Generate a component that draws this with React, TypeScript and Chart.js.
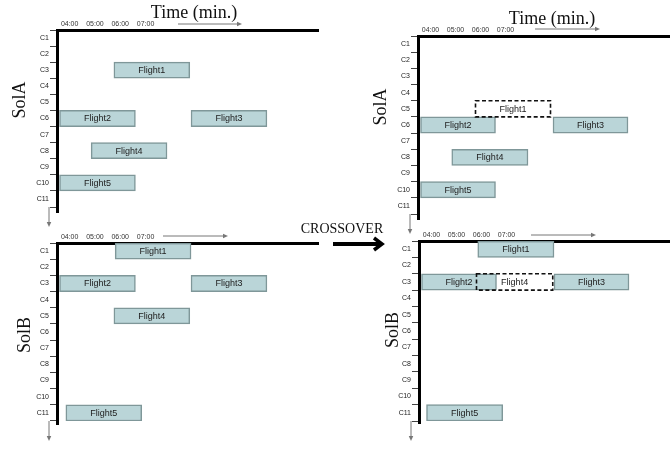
import React, { useEffect, useRef } from 'react';
import { Chart, registerables } from 'chart.js';

Chart.register(...registerables);

const W = 670;
const H = 459;

// ---- data ----
const categories = ['C1', 'C2', 'C3', 'C4', 'C5', 'C6', 'C7', 'C8', 'C9', 'C10', 'C11'];
const hourTicks = [4, 5, 6, 7];
const flightNames = ['Flight1', 'Flight2', 'Flight3', 'Flight4', 'Flight5'];

// Parent SolA (top-left)
const solARows = ['C3', 'C6', 'C6', 'C8', 'C10'];
const solAStart = [5.75, 3.6, 8.8, 4.85, 3.6];
const solAEnd = [8.75, 6.6, 11.8, 7.85, 6.6];

// Parent SolB (bottom-left)
const solBRows = ['C1', 'C3', 'C3', 'C5', 'C11'];
const solBStart = [5.8, 3.6, 8.8, 5.75, 3.85];
const solBEnd = [8.8, 6.6, 11.8, 8.75, 6.85];

// Child SolA after crossover (top-right)
const childARows = ['C5', 'C6', 'C6', 'C8', 'C10'];
const childAStart = [5.8, 3.6, 8.9, 4.85, 3.6];
const childAEnd = [8.8, 6.6, 11.9, 7.9, 6.6];
const childAMoved = ['Flight1'];

// Child SolB after crossover (bottom-right)
const childBRows = ['C1', 'C3', 'C3', 'C3', 'C11'];
const childBStart = [5.85, 3.6, 8.9, 5.8, 3.8];
const childBEnd = [8.9, 6.6, 11.9, 8.85, 6.85];
const childBMoved = ['Flight4'];

const noneMoved: string[] = [];

const texts = [
  { t: 'Time (min.)', x: 194, y: 12, size: 18, rot: 0 },
  { t: 'Time (min.)', x: 552, y: 18, size: 18, rot: 0 },
  { t: 'SolA', x: 19, y: 100, size: 18, rot: -90 },
  { t: 'SolB', x: 24, y: 335, size: 18, rot: -90 },
  { t: 'SolA', x: 380, y: 107, size: 18, rot: -90 },
  { t: 'SolB', x: 392, y: 330, size: 18, rot: -90 },
  { t: 'CROSSOVER', x: 342, y: 229, size: 14, rot: 0 },
];

const SANS = '"Liberation Sans", Arial, sans-serif';
const SERIF = '"Liberation Serif", "Times New Roman", serif';

function drawArrow(ctx: CanvasRenderingContext2D, x1: number, y1: number, x2: number, y2: number, color: string, lw: number, head: number) {
  const a = Math.atan2(y2 - y1, x2 - x1);
  ctx.save();
  ctx.strokeStyle = color;
  ctx.fillStyle = color;
  ctx.lineWidth = lw;
  ctx.beginPath();
  ctx.moveTo(x1, y1);
  ctx.lineTo(x2 - Math.cos(a) * head * 0.6, y2 - Math.sin(a) * head * 0.6);
  ctx.stroke();
  const bx = x2 - Math.cos(a) * head;
  const by = y2 - Math.sin(a) * head;
  const px = -Math.sin(a) * head * 0.45;
  const py = Math.cos(a) * head * 0.45;
  ctx.beginPath();
  ctx.moveTo(x2, y2);
  ctx.lineTo(bx + px, by + py);
  ctx.lineTo(bx - px, by - py);
  ctx.closePath();
  ctx.fill();
  ctx.restore();
}

const decorPlugin: any = {
  id: 'decor',
  afterDatasetsDraw(chart: any) {
    const ctx = chart.ctx as CanvasRenderingContext2D;
    // dashed outlines for moved flights
    chart.data.datasets.forEach((ds: any, di: number) => {
      if (!ds.dashed) return;
      const meta = chart.getDatasetMeta(di);
      meta.data.forEach((el: any) => {
        const { x, y, base, height } = el.getProps(['x', 'y', 'base', 'height'], true);
        ctx.save();
        ctx.setLineDash([4, 2.5]);
        ctx.lineWidth = 1.6;
        ctx.strokeStyle = '#111';
        ctx.strokeRect(Math.min(x, base), y - height / 2, Math.abs(x - base), height);
        ctx.restore();
      });
    });
    // flight names
    chart.data.datasets.forEach((ds: any, di: number) => {
      const meta = chart.getDatasetMeta(di);
      meta.data.forEach((el: any, i: number) => {
        const { x, y, base } = el.getProps(['x', 'y', 'base'], true);
        ctx.save();
        ctx.font = `9px ${SANS}`;
        ctx.fillStyle = '#222';
        ctx.textAlign = 'center';
        ctx.textBaseline = 'middle';
        ctx.fillText(ds.data[i].name, (x + base) / 2, y + 0.5);
        ctx.restore();
      });
    });
  },
  afterDraw(chart: any, _args: any, opts: any) {
    const ctx = chart.ctx as CanvasRenderingContext2D;
    const a = chart.chartArea;
    const bx = Math.round(a.left - 1.5) + 1.5;
    // axis extension below the plot
    ctx.save();
    ctx.strokeStyle = '#000';
    ctx.lineWidth = 3;
    ctx.beginPath();
    ctx.moveTo(bx, a.bottom);
    ctx.lineTo(bx, a.bottom + opts.axisExt);
    ctx.stroke();
    ctx.restore();
    // downward arrow from bottom tick
    const tickEnd = bx - 1.5 - 7;
    drawArrow(ctx, tickEnd, a.bottom, tickEnd, a.bottom + 20, '#777', 1, 5);
    // time direction arrow
    drawArrow(ctx, a.left + opts.tx1, a.top + opts.tdy, a.left + opts.tx2, a.top + opts.tdy, '#777', 1, 5);
    // big crossover arrow
    if (opts.big) {
      ctx.save();
      ctx.strokeStyle = '#000';
      ctx.lineWidth = 4;
      ctx.beginPath();
      ctx.moveTo(opts.bx1, opts.by);
      ctx.lineTo(opts.bx2 - 2, opts.by);
      ctx.stroke();
      ctx.lineWidth = 3.5;
      ctx.lineJoin = 'miter';
      ctx.beginPath();
      ctx.moveTo(opts.bx2 - 8, opts.by - 6);
      ctx.lineTo(opts.bx2, opts.by);
      ctx.lineTo(opts.bx2 - 8, opts.by + 6);
      ctx.stroke();
      ctx.restore();
    }
  },
};

type PanelProps = {
  rows: string[];
  start: number[];
  end: number[];
  moved: string[];
  area: { left: number; top: number; right: number; bottom: number };
  xMax: number;
  axisExt: number;
  tx1: number;
  tx2: number;
  tdy: number;
  big?: boolean;
};

function Panel(p: PanelProps) {
  const ref = useRef<HTMLCanvasElement>(null);
  useEffect(() => {
    if (!ref.current) return;
    const pts = flightNames.map((n, i) => ({ y: p.rows[i], x: [p.start[i], p.end[i]], name: n }));
    const solid = pts.filter((q) => !p.moved.includes(q.name));
    const dashed = pts.filter((q) => p.moved.includes(q.name));
    const chart = new Chart(ref.current, {
      type: 'bar',
      data: {
        labels: categories,
        datasets: [
          { data: solid as any, backgroundColor: '#bad5d8', borderColor: '#7f9799', borderWidth: 1.5 } as any,
          { data: dashed as any, backgroundColor: 'rgba(0,0,0,0)', borderWidth: 0, dashed: true } as any,
        ],
      },
      options: {
        indexAxis: 'y',
        responsive: false,
        animation: false,
        events: [],
        layout: {
          padding: {
            left: p.area.left - 30,
            top: p.area.top - 14,
            right: W - p.area.right,
            bottom: H - p.area.bottom,
          },
        },
        datasets: {
          bar: { grouped: false, barPercentage: 1, categoryPercentage: 1, borderSkipped: false } as any,
        },
        plugins: {
          legend: { display: false },
          tooltip: { enabled: false },
          decor: {
            axisExt: p.axisExt,
            tx1: p.tx1,
            tx2: p.tx2,
            tdy: p.tdy,
            big: !!p.big,
            bx1: 333,
            bx2: 382,
            by: 244,
          },
        } as any,
        scales: {
          x: {
            type: 'linear',
            position: 'top',
            min: 3.5,
            max: p.xMax,
            afterFit: (s: any) => {
              s.height = 14;
            },
            afterBuildTicks: (s: any) => {
              s.ticks = hourTicks.map((v) => ({ value: v }));
            },
            ticks: {
              callback: (v: any) => String(v).padStart(2, '0') + ':00',
              font: { family: SANS, size: 7 },
              color: '#333',
              padding: 2,
              maxRotation: 0,
              autoSkip: false,
            },
            grid: { display: false, drawTicks: false },
            border: { color: '#000', width: 3 },
          },
          y: {
            type: 'category',
            position: 'left',
            afterFit: (s: any) => {
              s.width = 30;
            },
            ticks: {
              font: { family: SANS, size: 7 },
              color: '#222',
              padding: 1,
              autoSkip: false,
            },
            grid: { drawOnChartArea: false, tickLength: 7, color: '#444', lineWidth: 1, offset: true },
            border: { color: '#000', width: 3 },
          },
        },
      } as any,
      plugins: [decorPlugin],
    });
    return () => chart.destroy();
  }, []);
  return (
    <canvas
      ref={ref}
      width={W}
      height={H}
      style={{ position: 'absolute', left: 0, top: 0, width: W, height: H }}
    />
  );
}

export default function App() {
  return (
    <div
      style={{
        position: 'absolute',
        left: 0,
        top: 0,
        width: W,
        height: H,
        background: '#fff',
        overflow: 'hidden',
      }}
    >
      <Panel rows={solARows} start={solAStart} end={solAEnd} moved={noneMoved}
        area={{ left: 57, top: 30, right: 318, bottom: 207 }} xMax={13.82} axisExt={6} tx1={121} tx2={185} tdy={-6} />
      <Panel rows={solBRows} start={solBStart} end={solBEnd} moved={noneMoved}
        area={{ left: 57, top: 243, right: 318, bottom: 421 }} xMax={13.82} axisExt={4} tx1={106} tx2={171} tdy={-7} big />
      <Panel rows={childARows} start={childAStart} end={childAEnd} moved={childAMoved}
        area={{ left: 418, top: 36, right: 670, bottom: 214 }} xMax={13.58} axisExt={6} tx1={117} tx2={182} tdy={-7} />
      <Panel rows={childBRows} start={childBStart} end={childBEnd} moved={childBMoved}
        area={{ left: 419, top: 241, right: 670, bottom: 421 }} xMax={13.54} axisExt={3} tx1={112} tx2={177} tdy={-6} />
      {texts.map((t, i) => (
        <div
          key={i}
          style={{
            position: 'absolute',
            left: t.x,
            top: t.y,
            transform: `translate(-50%, -50%) rotate(${t.rot}deg)`,
            fontFamily: SERIF,
            fontSize: t.size,
            lineHeight: 1,
            whiteSpace: 'nowrap',
            color: '#111',
          }}
        >
          {t.t}
        </div>
      ))}
    </div>
  );
}
